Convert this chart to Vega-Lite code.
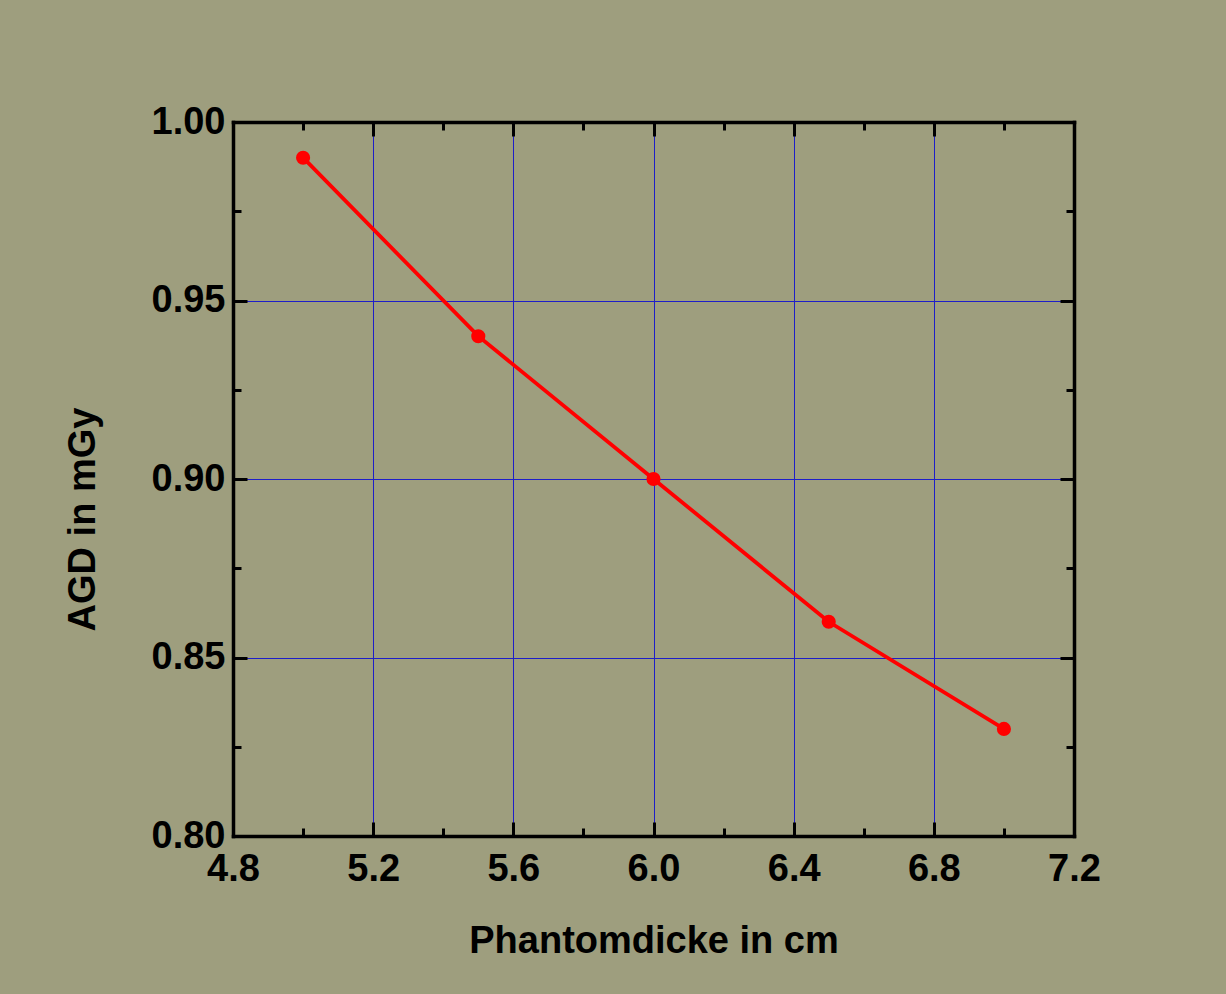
{
  "$schema": "https://vega.github.io/schema/vega-lite/v6.json",
  "width": 841,
  "height": 714,
  "autosize": {"type": "none"},
  "padding": {"left": 233, "top": 122, "right": 152, "bottom": 158},
  "background": "#9e9e7e",
  "config": {
    "view": {"stroke": null},
    "axis": {
      "labelFont": "Liberation Sans",
      "labelFontWeight": "bold",
      "labelFontSize": 38,
      "labelColor": "black",
      "titleFont": "Liberation Sans",
      "titleFontWeight": "bold",
      "titleFontSize": 38,
      "titleColor": "black",
      "domain": false,
      "domainColor": "black",
      "domainWidth": 3.5,
      "domainCap": "square",
      "tickColor": "black",
      "tickWidth": 3,
      "gridColor": "#1e1ec8",
      "gridWidth": 1,
      "gridOpacity": 1
    }
  },
  "data": {
    "values": [
      {"thickness": 5.0, "agd": 0.99},
      {"thickness": 5.5, "agd": 0.94},
      {"thickness": 6.0, "agd": 0.90},
      {"thickness": 6.5, "agd": 0.86},
      {"thickness": 7.0, "agd": 0.83}
    ]
  },
  "resolve": {"axis": {"x": "independent", "y": "independent"}},
  "layer": [
    {
      "mark": {"type": "line", "color": "#ff0000", "strokeWidth": 3.8},
      "encoding": {
        "x": {
          "field": "thickness", "type": "quantitative",
          "scale": {"domain": [4.8, 7.2], "nice": false, "zero": false},
          "axis": {
            "orient": "bottom", "title": "Phantomdicke in cm",
            "values": [4.8, 5.2, 5.6, 6.0, 6.4, 6.8, 7.2], "format": ".1f",
            "tickSize": -14, "labelPadding": 28, "titlePadding": 34, "grid": true,
            "labelFlush": false, "labelOverlap": false
          }
        },
        "y": {
          "field": "agd", "type": "quantitative",
          "scale": {"domain": [0.8, 1.0], "nice": false, "zero": false},
          "axis": {
            "orient": "left", "title": "AGD in mGy",
            "values": [0.8, 0.85, 0.9, 0.95, 1.0], "format": ".2f",
            "tickSize": -14, "labelPadding": 22, "titlePadding": 49, "titleY": 397, "grid": true,
            "labelFlush": false, "labelOverlap": false
          }
        }
      }
    },
    {
      "mark": {"type": "point", "filled": true, "color": "#ff0000", "opacity": 1, "size": 200},
      "encoding": {
        "x": {"field": "thickness", "type": "quantitative", "axis": null},
        "y": {"field": "agd", "type": "quantitative", "axis": null}
      }
    },
    {
      "mark": {"type": "point", "opacity": 0},
      "encoding": {
        "x": {
          "field": "thickness", "type": "quantitative",
          "axis": {"orient": "top", "title": null, "labels": false, "grid": false, "domain": true, "zindex": 1,
                   "values": [4.8, 5.2, 5.6, 6.0, 6.4, 6.8, 7.2], "tickSize": -14}
        },
        "y": {
          "field": "agd", "type": "quantitative",
          "axis": {"orient": "right", "title": null, "labels": false, "grid": false, "domain": true, "zindex": 1,
                   "values": [0.8, 0.85, 0.9, 0.95, 1.0], "tickSize": -14}
        }
      }
    },
    {
      "mark": {"type": "point", "opacity": 0},
      "encoding": {
        "x": {
          "field": "thickness", "type": "quantitative",
          "axis": {"orient": "bottom", "title": null, "labels": false, "grid": false, "domain": true, "zindex": 1,
                   "values": [5.0, 5.4, 5.8, 6.2, 6.6, 7.0], "tickSize": -8}
        },
        "y": {
          "field": "agd", "type": "quantitative",
          "axis": {"orient": "left", "title": null, "labels": false, "grid": false, "domain": true, "zindex": 1,
                   "values": [0.825, 0.875, 0.925, 0.975], "tickSize": -8}
        }
      }
    },
    {
      "mark": {"type": "point", "opacity": 0},
      "encoding": {
        "x": {
          "field": "thickness", "type": "quantitative",
          "axis": {"orient": "top", "title": null, "labels": false, "grid": false,
                   "values": [5.0, 5.4, 5.8, 6.2, 6.6, 7.0], "tickSize": -8}
        },
        "y": {
          "field": "agd", "type": "quantitative",
          "axis": {"orient": "right", "title": null, "labels": false, "grid": false,
                   "values": [0.825, 0.875, 0.925, 0.975], "tickSize": -8}
        }
      }
    }
  ]
}
